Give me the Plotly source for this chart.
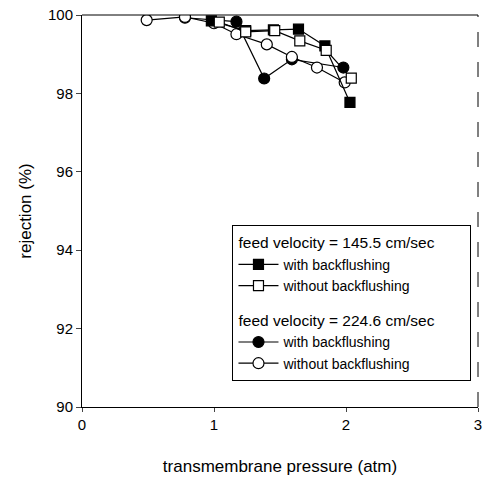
import plotly.graph_objects as go

# transmembrane pressure (atm) and rejection (%) for each run
p_145_with = [0.98, 1.24, 1.45, 1.64, 1.84, 2.03]
r_145_with = [99.85, 99.60, 99.62, 99.64, 99.21, 97.77]

p_145_without = [1.04, 1.24, 1.46, 1.65, 1.85, 2.04]
r_145_without = [99.82, 99.57, 99.60, 99.34, 99.10, 98.39]

p_224_with = [0.78, 1.17, 1.38, 1.59, 1.98]
r_224_with = [99.93, 99.83, 98.38, 98.87, 98.66]

p_224_without = [0.49, 0.78, 1.00, 1.17, 1.40, 1.59, 1.78, 1.99]
r_224_without = [99.87, 99.95, 99.79, 99.51, 99.25, 98.93, 98.66, 98.28]

x_ticks = [0, 1, 2, 3]
y_ticks = [90, 92, 94, 96, 98, 100]

FONT = "Liberation Sans, Arial, sans-serif"
NB = "\u00a0"

fig = go.Figure()

def add_series(x, y, symbol, fill, group, group_title, name, rank):
    fig.add_trace(go.Scatter(
        x=x, y=y, mode="lines+markers", name=name, legendrank=rank,
        legendgroup=group, legendgrouptitle_text=group_title,
        line=dict(color="black", width=1.2),
        marker=dict(symbol=symbol, size=11 if symbol == "circle" else 10,
                    color=fill, line=dict(color="black", width=1.2)),
    ))

title_145 = "feed velocity = 145.5 cm/sec" + NB * 6
title_224 = "feed velocity = 224.6 cm/sec" + NB * 6

add_series(p_224_with, r_224_with, "circle", "black", "g224",
           title_224, "with backflushing", 3)
add_series(p_224_without, r_224_without, "circle", "white", "g224",
           title_224, "without backflushing", 4)
add_series(p_145_with, r_145_with, "square", "black", "g145",
           title_145, "with backflushing", 1)
add_series(p_145_without, r_145_without, "square", "white", "g145",
           title_145, "without backflushing", 2)

fig.update_layout(
    width=488, height=490,
    margin=dict(l=82, r=6, t=14, b=83),
    paper_bgcolor="white", plot_bgcolor="white",
    font=dict(family=FONT, color="black", size=15),
    showlegend=True,
    legend=dict(
        x=0.38, y=0.465, xanchor="left", yanchor="top",
        bordercolor="black", borderwidth=1, bgcolor="white",
        font=dict(size=14, family=FONT),
        grouptitlefont=dict(size=15.5, family=FONT),
        tracegroupgap=12, itemwidth=40,
    ),
    xaxis=dict(
        range=[0, 3], tickvals=x_ticks, ticks="outside", ticklen=4,
        showline=True, linecolor="black", linewidth=1, showgrid=False,
        zeroline=False,
        title=dict(text="transmembrane pressure (atm)", font=dict(size=17),
                   standoff=28),
    ),
    yaxis=dict(
        range=[90, 100], tickvals=y_ticks, ticks="outside", ticklen=5,
        showline=True, linecolor="black", linewidth=1, showgrid=False,
        zeroline=False,
        title=dict(text="rejection (%)", font=dict(size=17), standoff=12),
    ),
)

# top and right frame lines
fig.add_shape(type="line", xref="paper", yref="paper", x0=0, x1=1, y0=1, y1=1,
              line=dict(color="black", width=1))
fig.add_shape(type="line", xref="paper", yref="paper", x0=1, x1=1, y0=0, y1=1,
              line=dict(color="black", width=1, dash="longdash"))

fig.write_html("out.html")
